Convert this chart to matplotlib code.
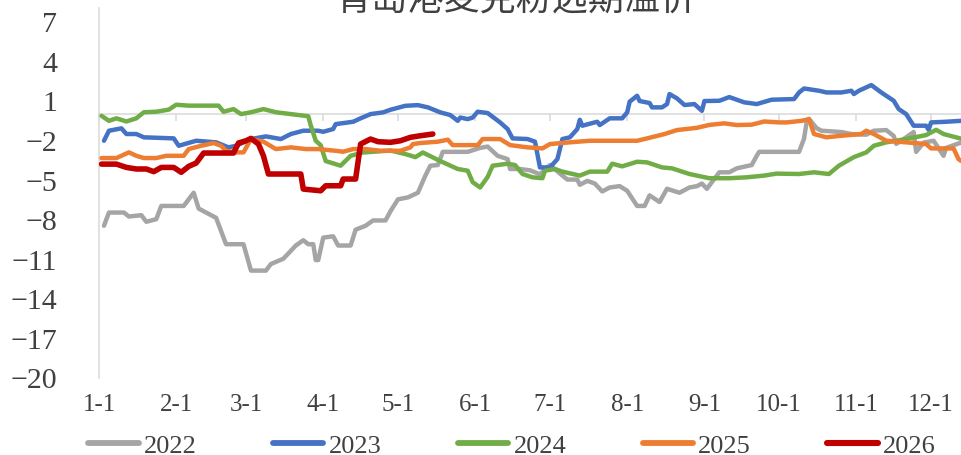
import matplotlib
matplotlib.use("Agg")
import matplotlib.pyplot as plt
from matplotlib.lines import Line2D

# ---------------- data (day of year, 0 = Jan 1) ----------------
month_days = [0, 31, 59, 90, 120, 151, 181, 212, 243, 273, 304, 334]
month_labels = ["1-1", "2-1", "3-1", "4-1", "5-1", "6-1", "7-1", "8-1", "9-1", "10-1", "11-1", "12-1"]

days_2022 = [2, 4, 10, 12, 17, 19, 23, 25, 34, 38, 40, 43, 47, 51, 58, 61, 67, 69, 74, 79, 82, 84, 86, 87, 88, 90,
             94, 96, 101, 103, 107, 110, 115, 117, 120, 124, 128, 131, 133, 136, 138, 148, 153, 156, 160, 164, 165,
             169, 173, 177, 181, 186, 188, 192, 193, 196, 199, 202, 205, 209, 212, 216, 219, 221, 225, 228, 233,
             237, 240, 242, 244, 249, 253, 256, 262, 264, 265, 281, 283, 284, 285, 288, 290, 298, 302, 308, 311,
             316, 319, 320, 322, 327, 328, 331, 335, 339, 340, 343, 346]
vals_2022 = [-8.5, -7.5, -7.5, -7.8, -7.7, -8.2, -8.0, -7.0, -7.0, -6.0, -7.2, -7.5, -7.9, -9.9, -9.9, -11.9, -11.9,
             -11.4, -11.0, -10.0, -9.6, -9.9, -9.9, -11.1, -11.1, -9.4, -9.3, -10.0, -10.0, -8.8, -8.5, -8.1, -8.1,
             -7.4, -6.5, -6.35, -6.0, -4.7, -3.95, -3.9, -2.9, -2.9, -2.6, -2.5, -3.2, -3.45, -4.2, -4.2, -4.3,
             -4.6, -3.9, -4.7, -5.0, -5.0, -5.4, -5.1, -5.3, -5.9, -5.6, -5.5, -5.85, -7.0, -7.0, -6.2, -6.7, -5.7,
             -6.0, -5.6, -5.5, -5.3, -5.7, -4.45, -4.45, -4.15, -3.9, -3.2, -2.9, -2.9, -1.9, -0.7, -0.4, -1.1,
             -1.3, -1.4, -1.55, -1.6, -1.3, -1.25, -1.7, -2.3, -2.06, -1.4, -2.9, -2.2, -2.06, -3.2, -2.6, -2.4, -2.2]

days_2023 = [2, 4, 9, 11, 15, 18, 30, 32, 39, 47, 52, 55, 61, 67, 73, 77, 82, 88, 90, 94, 95, 102, 105, 109, 114,
             117, 123, 128, 132, 137, 141, 144, 145, 148, 150, 152, 156, 161, 164, 166, 172, 175, 177, 181, 184,
             186, 189, 192, 193, 194, 200, 201, 205, 210, 212, 213, 216, 217, 221, 222, 226, 228, 229, 232, 235,
             239, 242, 243, 249, 253, 256, 259, 261, 264, 270, 279, 281, 283, 289, 292, 298, 302, 303, 305, 310,
             314, 319, 321, 324, 327, 332, 333, 334, 340, 346]
vals_2023 = [-2.06, -1.3, -1.12, -1.55, -1.55, -1.8, -1.88, -2.44, -2.06, -2.18, -2.56, -2.44, -1.93, -1.73, -1.93,
             -1.55, -1.3, -1.3, -1.38, -1.17, -0.8, -0.62, -0.36, -0.04, 0.09, 0.29, 0.59, 0.64, 0.47, 0.09, -0.11,
             -0.55, -0.3, -0.42, -0.3, 0.14, 0.04, -0.67, -1.17, -1.88, -1.93, -2.13, -4.08, -4.08, -3.45, -1.93,
             -1.8, -1.17, -0.47, -0.92, -0.62, -0.87, -0.36, -0.36, 0.09, 0.9, 1.35, 0.95, 0.8, 0.47, 0.47, 0.72,
             1.48, 1.15, 0.65, 0.72, 0.21, 0.95, 0.97, 1.25, 1.05, 0.85, 0.8, 0.72, 1.05, 1.1, 1.6, 1.9, 1.73, 1.6,
             1.6, 1.73, 1.48, 1.73, 2.16, 1.6, 0.97, 0.34, -0.04, -0.92, -0.92, -1.23, -0.67, -0.62, -0.55]

days_2024 = [1, 4, 7, 11, 15, 18, 23, 28, 31, 36, 48, 50, 54, 57, 61, 66, 71, 77, 84, 85, 87, 89, 91, 97, 101, 106,
             117, 123, 127, 130, 137, 144, 148, 150, 153, 156, 158, 164, 167, 170, 174, 178, 179, 183, 186, 193,
             197, 204, 206, 210, 216, 220, 226, 230, 237, 245, 253, 260, 267, 272, 281, 287, 293, 297, 303, 308,
             311, 316, 324, 332, 336, 339, 344, 346]
vals_2024 = [-0.17, -0.55, -0.36, -0.6, -0.36, 0.1, 0.14, 0.3, 0.67, 0.6, 0.6, 0.14, 0.34, -0.04, 0.1, 0.34, 0.1,
             -0.04, -0.2, -0.9, -2.06, -2.4, -3.6, -3.95, -3.2, -2.95, -2.8, -3.07, -3.3, -2.95, -3.6, -4.2, -4.33,
             -5.2, -5.6, -4.8, -3.95, -3.8, -3.9, -4.58, -4.83, -4.9, -4.33, -4.2, -4.4, -4.7, -4.4, -4.4, -3.8,
             -4.0, -3.65, -3.7, -4.08, -4.15, -4.58, -4.9, -4.9, -4.83, -4.7, -4.55, -4.58, -4.45, -4.58, -3.95,
             -3.3, -2.94, -2.44, -2.18, -1.93, -1.63, -1.23, -1.55, -1.8, -1.9]

days_2025 = [1, 7, 12, 15, 18, 23, 27, 34, 36, 41, 46, 49, 51, 55, 58, 61, 66, 71, 77, 83, 88, 95, 98, 102, 107,
             113, 121, 125, 126, 129, 136, 140, 142, 152, 154, 161, 165, 172, 178, 181, 189, 197, 207, 216, 220,
             227, 232, 240, 245, 251, 256, 262, 267, 273, 276, 282, 285, 287, 292, 298, 306, 308, 311, 316, 324,
             332, 334, 343, 345, 346]
vals_2025 = [-3.37, -3.37, -2.94, -3.2, -3.37, -3.37, -3.2, -3.2, -2.69, -2.44, -2.23, -2.44, -2.82, -2.94, -2.94,
             -1.93, -2.13, -2.69, -2.56, -2.69, -2.69, -2.82, -2.89, -2.69, -2.69, -2.82, -2.82, -2.56, -2.31,
             -2.23, -2.13, -1.98, -2.39, -2.39, -1.93, -1.93, -2.39, -2.56, -2.64, -2.31, -2.18, -2.06, -2.06,
             -2.06, -1.88, -1.55, -1.25, -1.08, -0.86, -0.74, -0.87, -0.84, -0.6, -0.67, -0.67, -0.55, -0.42,
             -1.55, -1.8, -1.68, -1.55, -1.3, -1.55, -2.06, -2.18, -2.31, -2.64, -2.64, -3.45, -3.58]

days_2026 = [1, 7, 11, 15, 19, 22, 25, 30, 33, 36, 39, 42, 54, 56, 59, 61, 64, 66, 68, 81, 82, 89, 91, 97, 98,
             103, 105, 109, 112, 117, 121, 125, 129, 134]
vals_2026 = [-3.83, -3.83, -4.08, -4.2, -4.2, -4.4, -4.08, -4.08, -4.45, -4.0, -3.75, -2.99, -2.99, -2.23, -2.06,
             -1.88, -2.31, -3.2, -4.58, -4.58, -5.72, -5.85, -5.47, -5.47, -4.96, -4.96, -2.31, -1.93, -2.13,
             -2.18, -2.06, -1.8, -1.68, -1.55]

series_names = ["2022", "2023", "2024", "2025", "2026"]
series_days = [days_2022, days_2023, days_2024, days_2025, days_2026]
series_vals = [vals_2022, vals_2023, vals_2024, vals_2025, vals_2026]
colors = ["#A5A5A5", "#4472C4", "#70AD47", "#ED7D31", "#C00000"]
widths = [3.2, 3.2, 3.2, 3.2, 4.0]

title = "青岛港麦克粉远期溢价"
y_ticks = [-20, -17, -14, -11, -8, -5, -2, 1, 4, 7]

# ---------------- figure ----------------
W, H = 961, 456
fig = plt.figure(figsize=(W / 100, H / 100), dpi=100)
fig.patch.set_facecolor("white")
ax = fig.add_axes([99 / W, 77.5 / H, (W - 99) / W, 369.5 / H])
ax.set_facecolor("white")

serif = ["Liberation Serif", "DejaVu Serif"]

for d, v, c, lw in zip(series_days, series_vals, colors, widths):
    ax.plot(d, v, color=c, lw=lw, solid_joinstyle="round", solid_capstyle="round", zorder=3)

ax.set_xlim(0, 346)
ax.set_ylim(-20, 8)

axis_col = "#D9D9D9"
for s in ["top", "right"]:
    ax.spines[s].set_visible(False)
ax.spines["left"].set_color(axis_col)
ax.spines["left"].set_linewidth(1.1)
ax.spines["bottom"].set_position(("data", 0))
ax.spines["bottom"].set_color(axis_col)
ax.spines["bottom"].set_linewidth(1.1)
ax.spines["bottom"].set_zorder(1)

ax.set_yticks(y_ticks)
ax.set_yticklabels([str(t).replace("-", "\u2212") for t in y_ticks], family=serif, fontsize=21.5, color="#404040")
ax.tick_params(axis="y", length=0, pad=30)

ax.set_xticks(month_days)
ax.tick_params(axis="x", direction="out", length=5, width=1.1, color=axis_col, labelbottom=False)

sec = ax.secondary_xaxis("bottom")
sec.set_xticks(month_days)
sec.set_xticklabels(month_labels, family=serif, fontsize=18, color="#404040")
sec.tick_params(length=0, pad=11)
sec.spines["bottom"].set_visible(False)

fig.text(516 / W, 1.0, title, ha="center", va="center", fontsize=26,
         family=["Noto Sans CJK SC", "DejaVu Sans"], color="#404040")

handles = [Line2D([0], [0], color=c, lw=4.2 if i < 4 else 4.4, solid_capstyle="round")
           for i, c in enumerate(colors)]
fig.legend(handles, series_names, loc="center", bbox_to_anchor=(512 / W, 10 / H), ncol=5, frameon=False,
           prop={"family": serif, "size": 19}, handlelength=1.9, handletextpad=0.2, columnspacing=2.9,
           labelcolor="#404040", borderaxespad=0, borderpad=0)

fig.savefig("out.png", dpi=100, facecolor="white")
